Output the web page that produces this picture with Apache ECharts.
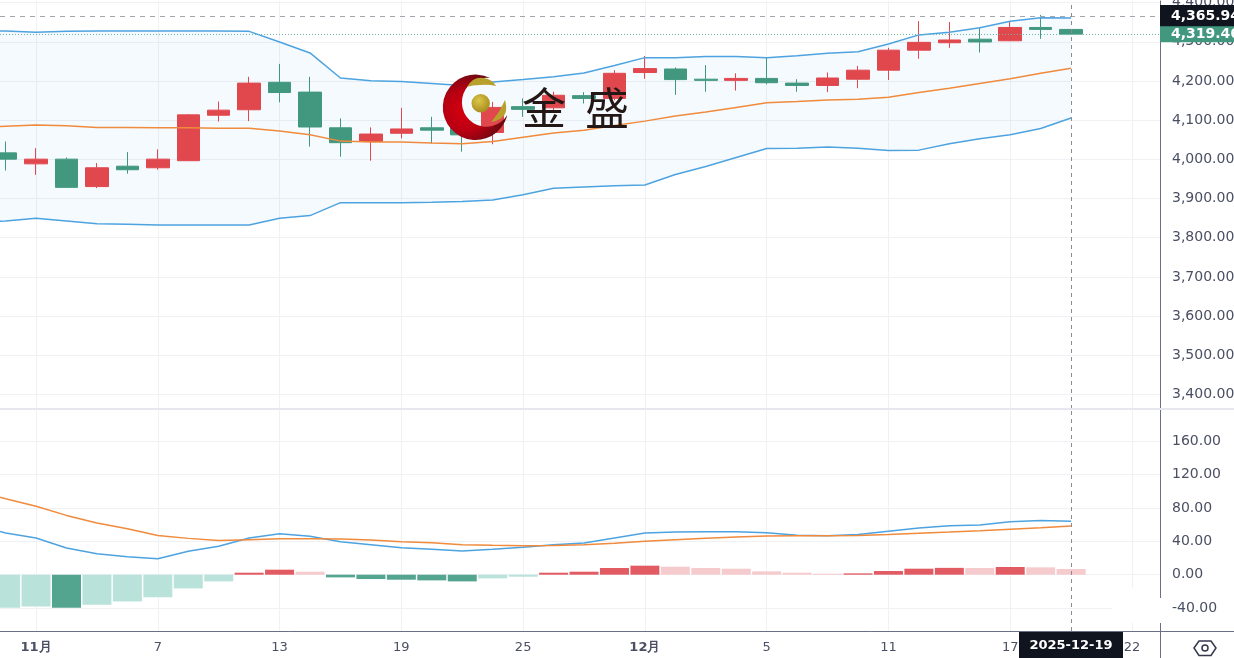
<!DOCTYPE html>
<html>
<head>
<meta charset="utf-8">
<title>chart</title>
<style>
html,body{margin:0;padding:0;background:#fff;}
#main{width:1234px;height:658px;}
</style>
<script src="https://cdn.jsdelivr.net/npm/echarts@6/dist/echarts.min.js"></script>
</head>
<body>
<div id="main"></div>
<script>
// candles, index 0 = 10-31, index 35 = 2025-12-19
var opens  = [4016.5,3988.5,4000.5,3930.5,3982.5,3978.5,3996.5,4112.5,4126.5,4196.5,4171.5,4080.5,4045.5,4066.5,4080.5,4079.5,4068.5,4134.5,4131.5,4162.5,4155.5,4221.5,4230.5,4204.5,4201.5,4206.5,4194.5,4188.5,4204.5,4227.5,4278.5,4297.5,4306.5,4302.5,4336.5,4331.5];
var closes = [4000.5,4000.5,3928.5,3978.5,3973.5,4000.5,4113.5,4125.5,4194.5,4170.5,4082.5,4042.5,4064.5,4077.5,4074.5,4062.5,4132.5,4127.5,4163.5,4155.5,4219.5,4231.5,4203.5,4201.5,4206.5,4195.5,4188.5,4207.5,4227.5,4278.5,4298.5,4304.5,4299.5,4336.5,4331.5,4319.46];
var lows   = [3971.5,3960.5,3928.5,3926.5,3963.5,3973.5,3996.5,4096.5,4097.5,4145.5,4032.5,4006.5,3996.5,4053.5,4040.5,4019.5,4038.5,4108.5,4118.5,4142.5,4150.5,4205.5,4164.5,4172.5,4175.5,4191.5,4172.5,4171.5,4181.5,4202.5,4256.5,4284.5,4272.5,4301.5,4307.5,4319.46];
var highs  = [4045.5,4028.5,4004.5,3990.5,4018.5,4025.5,4115.5,4147.5,4210.5,4243.5,4210.5,4104.5,4081.5,4131.5,4108.5,4105.5,4146.5,4155.5,4172.5,4171.5,4227.5,4263.5,4234.5,4240.5,4219.5,4260.5,4204.5,4221.5,4238.5,4284.5,4352.5,4350.5,4335.5,4351.5,4368.5,4331.5];

// line arrays start one bar before the candles (off the left edge)
var bollUpper  = [4328.5,4327.5,4324.5,4326.5,4327.5,4327.5,4327.5,4327.5,4327.5,4326.5,4299.5,4271.5,4207.5,4200.5,4198.5,4193.5,4188.5,4197.5,4203.5,4210.5,4220.5,4239.5,4259.5,4259.5,4262.5,4262.5,4259.5,4264.5,4270.5,4274.5,4294.5,4317.5,4324.5,4335.5,4352.5,4361.5,4360.5];
var bollMiddle = [4081.5,4084.5,4087.5,4085.5,4081.5,4081.5,4080.5,4080.5,4079.5,4079.5,4072.5,4062.5,4046.5,4044.5,4044.5,4041.5,4039.5,4045.5,4056.5,4067.5,4074.5,4086.5,4097.5,4110.5,4120.5,4132.5,4144.5,4147.5,4151.5,4153.5,4158.5,4170.5,4181.5,4193.5,4205.5,4219.5,4232.5];
var bollLower  = [3838.5,3842.5,3849.5,3842.5,3835.5,3834.5,3832.5,3832.5,3832.5,3832.5,3849.5,3856.5,3889.5,3889.5,3889.5,3890.5,3892.5,3896.5,3909.5,3926.5,3929.5,3932.5,3934.5,3961.5,3981.5,4004.5,4027.5,4028.5,4031.5,4028.5,4022.5,4023.5,4039.5,4052.5,4062.5,4078.5,4105.5];
var macdDif = [59,50,44,32,25,21.5,19,28,34,44,49,46,39.5,36,32.3,30.5,28.4,30.5,33,36,38,44,50,51,51.5,51.5,50.3,47.3,46.7,48,52,56,58.7,59.5,63.5,65,64];
var macdDea = [101,91,82,71,62,55,47,43.5,41,42,43,43,42.8,41.5,39.5,38.3,36,35.3,34.7,35,36,37.7,40,42,43.7,45,46.3,46.5,46.7,47,48,49.5,51,52.7,54.5,56.3,58.3];
var macdHist = [-39.5,-38,-39.5,-36,-32,-27,-16.4,-8,2.4,6,3.6,-3.2,-5.2,-6,-6.8,-8,-4.4,-2.4,2.4,3.6,8,10.8,9.6,8,7.2,4,2.4,1.2,1.6,4.4,7.2,8.2,8,9.2,8.8,6.8];

var priceTicks = [3400,3500,3600,3700,3800,3900,4000,4100,4200,4300,4400];
var macdTicks = [-40,0,40,80,120,160];
var timeTickIndex = [1,5,9,13,17,21,25,29,33,37];
var timeTickLabels = ['11月','7','13','19','25','12月','5','11','17','22'];
var lastHigh = 4365.94;
var lastClose = 4319.46;
var lastIndex = 35;
var lastDate = '2025-12-19';

var upColor = '#e0484e';
var downColor = '#42987f';
var labelColor = '#4b4f63';
var gridColor = '#f0f1f5';
var axisColor = '#6a6f85';
var labelFont = '"DejaVu Sans"';

// logo outlines
echarts.graphic.registerShape('logoCrescent', echarts.graphic.extendPath('M490 78 A32.7 32.7 0 1 0 507.3 115 A24.5 24.5 0 1 1 490 78 Z'));
echarts.graphic.registerShape('logoLeafTop', echarts.graphic.extendPath('M467 87 Q473 76 484 78 Q492 79 496 86 Q488 84 480 85 Q472 85 467 87 Z'));
echarts.graphic.registerShape('logoLeafRight', echarts.graphic.extendPath('M505 100 Q509 114 500 119 Q495 122 491 122 Q498 114 501 108 Q503 104 505 100 Z'));

function toPoints(arr, start) {
    var out = [];
    for (var i = 0; i < arr.length; i++) {
        out.push([i + start, arr[i]]);
    }
    return out;
}

var candleData = [];
for (var i = 0; i < opens.length; i++) {
    candleData.push([i, opens[i], closes[i], lows[i], highs[i]]);
}

var histData = [];
for (var i = 0; i < macdHist.length; i++) {
    var v = macdHist[i];
    var strong = i > 0 && (v >= 0 ? v > macdHist[i - 1] : v < macdHist[i - 1]);
    var color = v >= 0 ? (strong ? '#e25a62' : '#f5cbce') : (strong ? '#53a58f' : '#b9e3da');
    histData.push({value: [i, v], itemStyle: {color: color}});
}

// filled band between upper and lower
function renderBand(params, api) {
    var points = [];
    for (var i = 0; i < bollUpper.length; i++) {
        points.push(api.coord([i - 1, bollUpper[i]]));
    }
    for (var j = bollLower.length - 1; j >= 0; j--) {
        points.push(api.coord([j - 1, bollLower[j]]));
    }
    return {type: 'polygon', shape: {points: points}, style: {fill: 'rgba(33,150,243,0.05)'}};
}

function priceFormat(v) {
    return v.toFixed(2).replace(/\B(?=(\d{3})+(?!\d))/, ',');
}

function timeLabel(v) {
    var s = timeTickLabels[timeTickIndex.indexOf(v)];
    return s.indexOf('月') > 0 ? '{b|' + s + '}' : s;
}

var xBase = {
    type: 'value',
    min: -0.184,
    max: 37.92,
    axisTick: {show: false, customValues: timeTickIndex},
    splitLine: {show: true, lineStyle: {color: gridColor}}
};

var myChart = echarts.init(document.getElementById('main'));
var option = {
    animation: false,
    backgroundColor: '#fff',
    textStyle: {fontFamily: labelFont},
    grid: [
        {left: 0, top: 1, width: 1160, height: 408, outerBoundsMode: 'none'},
        {left: 0, top: 409, width: 1160, height: 222, outerBoundsMode: 'none'}
    ],
    xAxis: [
        Object.assign({}, xBase, {
            gridIndex: 0,
            axisLine: {show: false},
            axisLabel: {show: false, customValues: timeTickIndex}
        }),
        Object.assign({}, xBase, {
            gridIndex: 1,
            axisLine: {show: true, onZero: false, lineStyle: {color: axisColor}},
            axisLabel: {
                show: true,
                customValues: timeTickIndex,
                formatter: timeLabel,
                margin: 10,
                fontSize: 13,
                fontFamily: labelFont,
                color: labelColor,
                rich: {b: {fontSize: 13, fontWeight: 'bold', color: labelColor, fontFamily: labelFont}}
            }
        })
    ],
    yAxis: [
        {
            type: 'value',
            gridIndex: 0,
            position: 'right',
            min: 3363,
            max: 4404,
            axisLine: {show: true, onZero: false, lineStyle: {color: axisColor}},
            axisTick: {show: false, customValues: priceTicks},
            axisLabel: {
                customValues: priceTicks,
                formatter: priceFormat,
                margin: 12,
                fontSize: 14,
                fontFamily: labelFont,
                color: labelColor
            },
            splitLine: {show: true, lineStyle: {color: gridColor}}
        },
        {
            type: 'value',
            gridIndex: 1,
            position: 'right',
            min: -67.4,
            max: 198.4,
            axisLine: {show: true, onZero: false, lineStyle: {color: axisColor}},
            axisTick: {show: false, customValues: macdTicks},
            axisLabel: {
                customValues: macdTicks,
                formatter: priceFormat,
                margin: 12,
                fontSize: 14,
                fontFamily: labelFont,
                color: labelColor
            },
            splitLine: {show: true, lineStyle: {color: gridColor}}
        }
    ],
    series: [
        {name: 'band', type: 'custom', renderItem: renderBand, data: [[0, bollLower[0]]], silent: true, z: 1},
        {name: 'upper', type: 'line', data: toPoints(bollUpper, -1), symbol: 'none', lineStyle: {color: '#4da3e0', width: 1.5}},
        {name: 'lower', type: 'line', data: toPoints(bollLower, -1), symbol: 'none', lineStyle: {color: '#4da3e0', width: 1.5}},
        {name: 'middle', type: 'line', data: toPoints(bollMiddle, -1), symbol: 'none', lineStyle: {color: '#f08a3c', width: 1.5}},
        {
            name: 'kline',
            type: 'candlestick',
            data: candleData,
            barWidth: 23,
            itemStyle: {color: upColor, color0: downColor, borderColor: upColor, borderColor0: downColor, borderWidth: 1},
            markLine: {
                silent: true,
                symbol: 'none',
                animation: false,
                data: [
                    {
                        yAxis: lastHigh,
                        lineStyle: {color: '#a4a6ad', type: [5, 5], width: 1},
                        label: {
                            position: 'end',
                            distance: 0,
                            formatter: priceFormat(lastHigh),
                            color: '#fff',
                            fontFamily: labelFont,
                            fontWeight: 'bold',
                            fontSize: 14,
                            lineHeight: 16,
                            backgroundColor: '#10141f',
                            padding: [3, 20, 3, 11]
                        }
                    },
                    {
                        yAxis: lastClose,
                        lineStyle: {color: '#6fb6a3', type: [1, 2], width: 1},
                        label: {
                            position: 'end',
                            distance: 0,
                            formatter: priceFormat(lastClose),
                            color: '#fff',
                            fontFamily: labelFont,
                            fontWeight: 'bold',
                            fontSize: 14,
                            lineHeight: 15,
                            backgroundColor: downColor,
                            padding: [1, 20, 0, 11]
                        }
                    },
                    {
                        xAxis: lastIndex,
                        lineStyle: {color: '#8a8c94', type: [4, 4], width: 1},
                        label: {show: false}
                    }
                ]
            }
        },
        {
            name: 'hist',
            type: 'bar',
            xAxisIndex: 1,
            yAxisIndex: 1,
            data: histData,
            barWidth: 29,
            markLine: {
                silent: true,
                symbol: 'none',
                animation: false,
                data: [{xAxis: lastIndex, lineStyle: {color: '#8a8c94', type: [4, 4], width: 1}, label: {show: false}}]
            }
        },
        {name: 'dif', type: 'line', xAxisIndex: 1, yAxisIndex: 1, data: toPoints(macdDif, -1), symbol: 'none', lineStyle: {color: '#4da3e0', width: 1.5}},
        {name: 'dea', type: 'line', xAxisIndex: 1, yAxisIndex: 1, data: toPoints(macdDea, -1), symbol: 'none', lineStyle: {color: '#f08a3c', width: 1.5}}
    ],
    graphic: [
        // pane separator and axis frame
        {type: 'rect', z: 50, shape: {x: 0, y: 408, width: 1234, height: 2}, style: {fill: '#e6e6ee'}},
        {type: 'line', z: 50, shape: {x1: 1160, y1: 631.5, x2: 1234, y2: 631.5}, style: {stroke: axisColor, lineWidth: 1}},
        {type: 'line', z: 50, shape: {x1: 1160.5, y1: 631, x2: 1160.5, y2: 658}, style: {stroke: axisColor, lineWidth: 1}},
        // white patch at lower right
        {type: 'rect', z: 50, shape: {x: 1112, y: 588, width: 46, height: 35}, style: {fill: '#fff'}},
        {type: 'rect', z: 50, shape: {x: 1158, y: 598, width: 5, height: 25}, style: {fill: '#fff'}},
        // crosshair date
        {type: 'rect', z: 60, shape: {x: 1019, y: 632, width: 104, height: 26}, style: {fill: '#10141f'}},
        {type: 'text', z: 61, x: 1071, y: 646, style: {text: lastDate, fill: '#fff', font: 'bold 13px "DejaVu Sans"', textAlign: 'center', textVerticalAlign: 'middle'}},
        // eye icon
        {type: 'polygon', z: 60, shape: {points: [[1194, 648], [1199, 641], [1211, 641], [1216, 648], [1211, 655.5], [1199, 655.5]]}, style: {fill: 'none', stroke: '#33374a', lineWidth: 1.5}},
        {type: 'circle', z: 60, shape: {cx: 1205, cy: 648, r: 3}, style: {fill: 'none', stroke: '#33374a', lineWidth: 1.5}},
        // logo
        {
            type: 'logoCrescent', z: 70,
            style: {fill: new echarts.graphic.RadialGradient(0.35, 0.55, 0.65, [
                {offset: 0, color: '#d8000f'},
                {offset: 0.5, color: '#b80012'},
                {offset: 1, color: '#5e0a10'}
            ])}
        },
        {
            type: 'circle', z: 71,
            shape: {cx: 480.7, cy: 103.3, r: 9.2},
            style: {fill: new echarts.graphic.RadialGradient(0.4, 0.35, 0.7, [
                {offset: 0, color: '#dcc648'},
                {offset: 1, color: '#a5891c'}
            ])}
        },
        {type: 'logoLeafTop', z: 71, style: {fill: '#b8a02c'}},
        {type: 'logoLeafRight', z: 71, style: {fill: '#b8a02c'}},
        {type: 'text', z: 72, x: 544, y: 108, style: {text: '金', fill: '#231815', font: 'normal 44px "Noto Sans CJK SC"', textAlign: 'center', textVerticalAlign: 'middle'}},
        {type: 'text', z: 72, x: 607, y: 108, style: {text: '盛', fill: '#231815', font: 'normal 44px "Noto Sans CJK SC"', textAlign: 'center', textVerticalAlign: 'middle'}}
    ]
};
myChart.setOption(option);
</script>
</body>
</html>
